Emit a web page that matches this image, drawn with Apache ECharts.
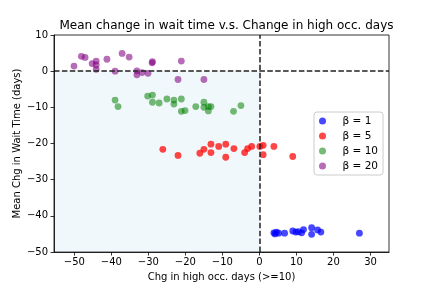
<!DOCTYPE html>
<html>
<head>
<meta charset="utf-8">
<script src="https://cdn.jsdelivr.net/npm/echarts@6/dist/echarts.min.js"></script>
<style>html,body{margin:0;padding:0;background:#fff}#c{width:432px;height:288px}</style>
</head>
<body>
<div id="c"></div>
<script>
var titleText = 'Mean change in wait time v.s. Change in high occ. days';
var xName = 'Chg in high occ. days (>=10)';
var yName = 'Mean Chg in Wait Time (days)';
var seriesNames = ['\u03b2 = 1', '\u03b2 = 5', '\u03b2 = 10', '\u03b2 = 20'];
var xTicks = [-50, -40, -30, -20, -10, 0, 10, 20, 30];
var yTicks = [-50, -40, -30, -20, -10, 0, 10];
var xRange = [-55.5, 35];
var yRange = [-50, 10];
var shadeRegion = [[-55.5, -50], [0, 0]];

var beta1 = [[3.9,-44.7],[4.2,-45.0],[4.6,-44.5],[5.2,-44.8],[6.8,-44.8],[9.0,-44.2],[9.8,-44.5],[10.5,-44.4],[11.4,-44.7],[11.9,-43.8],[14.1,-43.3],[14.1,-45.1],[15.7,-43.9],[16.6,-44.5],[27.0,-44.8]];
var beta5 = [[-26.1,-21.6],[-22.0,-23.3],[-16.1,-22.7],[-15.0,-21.6],[-13.1,-20.2],[-13.1,-22.5],[-11.0,-20.8],[-9.1,-20.2],[-9.1,-23.8],[-6.9,-21.4],[-4.0,-22.5],[-3.2,-21.4],[-2.1,-20.8],[0.1,-20.8],[1.0,-20.5],[1.0,-23.1],[3.9,-20.8],[9.0,-23.6]];
var beta10 = [[-39.0,-8.0],[-38.2,-9.8],[-30.2,-6.9],[-28.9,-6.6],[-28.9,-8.6],[-27.1,-8.8],[-25.0,-7.7],[-23.1,-8.0],[-23.1,-9.1],[-21.1,-7.7],[-21.1,-11.1],[-20.1,-10.9],[-17.2,-9.8],[-15.0,-8.6],[-15.0,-10.0],[-13.8,-9.8],[-13.1,-9.8],[-13.8,-11.0],[-7.0,-11.1],[-5.0,-9.5]];
var beta20 = [[-50.1,1.4],[-48.1,4.1],[-47.1,3.8],[-45.2,2.1],[-44.1,2.8],[-44.1,1.7],[-44.1,0.5],[-41.2,3.3],[-39.0,0.0],[-37.1,4.9],[-35.2,3.9],[-33.1,0.1],[-33.1,-1.0],[-31.7,-0.4],[-30.1,-0.6],[-29.0,2.3],[-28.9,2.6],[-21.1,2.8],[-22.0,-2.3],[-15.0,-2.3]];

var colors = ['rgba(0,0,255,0.9)', 'rgba(255,0,0,0.9)', 'rgba(0,128,0,0.68)', 'rgba(128,0,128,0.72)'];
var FONT = 'DejaVu Sans';
function fmt(v){ return String(v).replace('-', '\u2212'); }

var chart = echarts.init(document.getElementById('c'), null, {renderer: 'canvas'});
var allData = [beta1, beta5, beta10, beta20];
var series = allData.map(function(d, i){
  return {
    name: seriesNames[i], type: 'scatter', data: d, symbolSize: 6.8,
    itemStyle: {color: colors[i]}, z: 3
  };
});
series.unshift({
  type: 'scatter', data: [], z: 1, silent: true,
  markArea: {silent: true, itemStyle: {color: 'rgba(173,216,230,0.17)'},
    data: [[{coord: shadeRegion[0]}, {coord: shadeRegion[1]}]]},
  markLine: {silent: true, symbol: 'none', label: {show: false},
    lineStyle: {color: '#222', width: 1.5, type: [5.5, 2.4]},
    data: [{xAxis: 0}, {yAxis: 0}]}
});

chart.setOption({
  animation: false,
  title: {text: titleText, left: 221.5, textAlign: 'center', top: 15,
    textStyle: {fontFamily: FONT, fontSize: 12, fontWeight: 'normal', color: '#000'}},
  grid: {left: 54, right: 43, top: 35, bottom: 36, show: true, borderColor: '#000', borderWidth: 0.8, backgroundColor: 'transparent'},
  legend: {
    orient: 'vertical', left: 314, top: 112, data: seriesNames, icon: 'circle',
    itemWidth: 14, itemHeight: 7, itemGap: 3,
    padding: [3, 5, 3, 5], borderColor: '#ccc', borderWidth: 1, borderRadius: 3, backgroundColor: '#fff',
    textStyle: {fontFamily: FONT, fontSize: 10.5, color: '#000', lineHeight: 12, padding: [0, 0, 0, 8]}
  },
  xAxis: {
    type: 'value', min: xRange[0], max: xRange[1], z: 5,
    name: xName, nameLocation: 'middle', nameGap: 20, nameMoveOverlap: false,
    nameTextStyle: {fontFamily: FONT, fontSize: 10, color: '#000'},
    axisLine: {show: true, onZero: false, lineStyle: {color: '#000', width: 0.8}},
    axisTick: {show: true, length: 3.5, lineStyle: {color: '#000', width: 0.8}, customValues: xTicks},
    axisLabel: {fontFamily: FONT, fontSize: 10, color: '#000', margin: 5, customValues: xTicks, formatter: fmt},
    splitLine: {show: false}
  },
  yAxis: {
    type: 'value', min: yRange[0], max: yRange[1], interval: 10, z: 5,
    name: yName, nameLocation: 'middle', nameGap: 32, nameMoveOverlap: false,
    nameTextStyle: {fontFamily: FONT, fontSize: 10, color: '#000'},
    axisLine: {show: true, onZero: false, lineStyle: {color: '#000', width: 0.8}},
    axisTick: {show: true, length: 3.5, lineStyle: {color: '#000', width: 0.8}, customValues: yTicks},
    axisLabel: {fontFamily: FONT, fontSize: 10, color: '#000', margin: 6, customValues: yTicks, formatter: fmt},
    splitLine: {show: false}
  },
  series: series
});
</script>
</body>
</html>
